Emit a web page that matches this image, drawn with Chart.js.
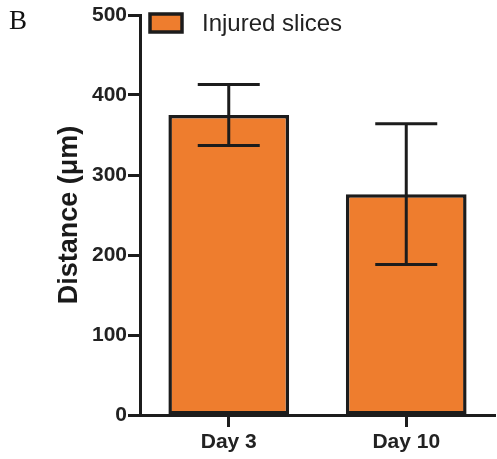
<!DOCTYPE html>
<html>
<head>
<meta charset="utf-8">
<script src="https://cdn.jsdelivr.net/npm/chart.js@4/dist/chart.umd.min.js"></script>
<style>
  html, body { margin: 0; padding: 0; background: #fff; }
  #wrap { width: 497px; height: 459px; position: relative; }
</style>
</head>
<body>
<div id="wrap"><canvas id="chart"></canvas></div>
<script>
// Data
const categories = ["Day 3", "Day 10"];
const seriesLabel = "Injured slices";
const meanDistance = [375, 276];
const errDistance = [38, 88];
const yTicks = [0, 100, 200, 300, 400, 500];

const ORANGE = "#ee7d2e";
const INK = "#1c1c1c";

// error bars drawn over the bars
const errorBarPlugin = {
  id: "errorBars",
  afterDatasetsDraw(chart) {
    const meta = chart.getDatasetMeta(0);
    const y = chart.scales.y;
    const ctx = chart.ctx;
    ctx.save();
    ctx.strokeStyle = INK;
    ctx.lineWidth = 3;
    meta.data.forEach((bar, i) => {
      const hi = y.getPixelForValue(meanDistance[i] + errDistance[i]);
      const lo = y.getPixelForValue(meanDistance[i] - errDistance[i]);
      const half = 31;
      ctx.beginPath();
      ctx.moveTo(bar.x, hi);
      ctx.lineTo(bar.x, lo);
      ctx.moveTo(bar.x - half, hi);
      ctx.lineTo(bar.x + half, hi);
      ctx.moveTo(bar.x - half, lo);
      ctx.lineTo(bar.x + half, lo);
      ctx.stroke();
    });
    ctx.restore();
  },
};

// legend box + panel letter
const annotatePlugin = {
  id: "annotate",
  afterDraw(chart) {
    const ctx = chart.ctx;
    const ds = chart.data.datasets[0];
    ctx.save();
    ctx.fillStyle = ds.backgroundColor;
    ctx.fillRect(150, 14, 32, 18);
    ctx.strokeStyle = INK;
    ctx.lineWidth = 3.5;
    ctx.strokeRect(150, 14, 32, 18);
    ctx.fillStyle = "#222";
    ctx.font = "24px 'Liberation Sans', Arial, sans-serif";
    ctx.textBaseline = "middle";
    ctx.fillText(ds.label, 202, 24);
    ctx.fillStyle = "#111";
    ctx.font = "27px 'Liberation Serif', 'Times New Roman', serif";
    ctx.textBaseline = "alphabetic";
    ctx.fillText("B", 9, 29);
    ctx.restore();
  },
};

new Chart(document.getElementById("chart"), {
  type: "bar",
  data: {
    labels: categories,
    datasets: [
      {
        label: seriesLabel,
        data: meanDistance,
        backgroundColor: ORANGE,
        borderColor: INK,
        borderWidth: 3.5,
        borderSkipped: false,
        barPercentage: 0.68,
        categoryPercentage: 1,
      },
    ],
  },
  options: {
    responsive: true,
    maintainAspectRatio: false,
    animation: false,
    layout: { padding: { top: 15, right: 2, left: 0, bottom: 0 } },
    plugins: {
      legend: { display: false },
      tooltip: { enabled: false },
    },
    scales: {
      x: {
        afterFit: (s) => { s.height = 44; },
        grid: {
          offset: false,
          drawOnChartArea: false,
          tickLength: 12,
          tickWidth: 3,
          tickColor: INK,
        },
        border: { color: INK, width: 3 },
        ticks: {
          color: "#222",
          padding: 3,
          font: { family: "'Liberation Sans', Arial, sans-serif", size: 21, weight: "bold" },
        },
      },
      y: {
        min: 0,
        max: 500,
        afterFit: (s) => { s.width = 140; },
        afterBuildTicks: (s) => { s.ticks = yTicks.map((v) => ({ value: v })); },
        grid: {
          drawOnChartArea: false,
          tickLength: 12,
          tickWidth: 3,
          tickColor: INK,
        },
        border: { color: INK, width: 3 },
        ticks: {
          color: "#222",
          padding: 1,
          font: { family: "'Liberation Sans', Arial, sans-serif", size: 21, weight: "bold" },
        },
        title: {
          display: true,
          text: "Distance (μm)",
          color: "#1a1a1a",
          padding: { top: 56, bottom: 0 },
          font: { family: "'Liberation Sans', Arial, sans-serif", size: 27, weight: "bold", lineHeight: 1 },
        },
      },
    },
  },
  plugins: [errorBarPlugin, annotatePlugin],
});
</script>
</body>
</html>
